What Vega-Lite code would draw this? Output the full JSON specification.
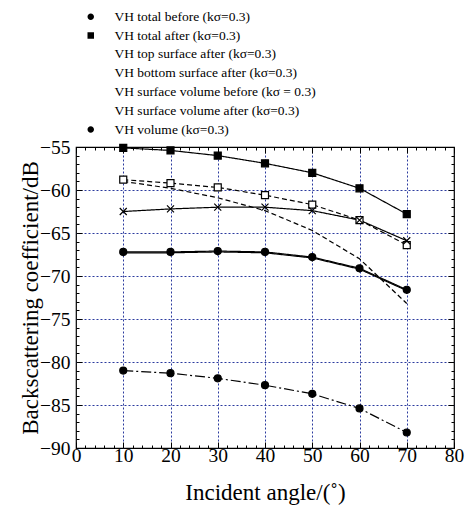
{
  "$schema": "https://vega.github.io/schema/vega-lite/v6.json",
  "width": 378,
  "height": 301,
  "autosize": {"type": "none"},
  "padding": {"left": 76, "top": 147, "right": 11, "bottom": 57},
  "background": "white",
  "config": {
    "view": {"stroke": "black", "strokeWidth": 1.2},
    "font": "Liberation Serif",
    "axis": {
      "labelFont": "Liberation Serif",
      "titleFont": "Liberation Serif",
      "labelColor": "black",
      "titleColor": "black",
      "labelFontSize": 19.5,
      "titleFontSize": 23,
      "titleFontWeight": "normal",
      "domain": false,
      "tickColor": "black",
      "tickWidth": 1,
      "gridColor": "#2b3a9e",
      "gridDash": [2, 2],
      "gridWidth": 1,
      "labelOverlap": false,
      "labelFlush": false
    },
    "legend": {
      "orient": "none",
      "legendX": 8,
      "legendY": -137,
      "title": null,
      "padding": 0,
      "labelFont": "Liberation Serif",
      "labelFontSize": 13.5,
      "labelColor": "black",
      "labelLimit": 400,
      "labelOffset": 17,
      "symbolSize": 100,
      "symbolOpacity": 1,
      "symbolStrokeColor": "black",
      "symbolStrokeWidth": 1.2,
      "rowPadding": 3.8
    }
  },
  "data": {
    "values": [
      {"series": "VH total before (kσ=0.3)", "angle": 10, "value": -67.2},
      {"series": "VH total before (kσ=0.3)", "angle": 20, "value": -67.2},
      {"series": "VH total before (kσ=0.3)", "angle": 30, "value": -67.1},
      {"series": "VH total before (kσ=0.3)", "angle": 40, "value": -67.2},
      {"series": "VH total before (kσ=0.3)", "angle": 50, "value": -67.8},
      {"series": "VH total before (kσ=0.3)", "angle": 60, "value": -69.1},
      {"series": "VH total before (kσ=0.3)", "angle": 70, "value": -71.6},
      {"series": "VH total after (kσ=0.3)", "angle": 10, "value": -55.1},
      {"series": "VH total after (kσ=0.3)", "angle": 20, "value": -55.4},
      {"series": "VH total after (kσ=0.3)", "angle": 30, "value": -56.0},
      {"series": "VH total after (kσ=0.3)", "angle": 40, "value": -56.9},
      {"series": "VH total after (kσ=0.3)", "angle": 50, "value": -58.0},
      {"series": "VH total after (kσ=0.3)", "angle": 60, "value": -59.8},
      {"series": "VH total after (kσ=0.3)", "angle": 70, "value": -62.8},
      {"series": "VH top surface after (kσ=0.3)", "angle": 10, "value": -59.0},
      {"series": "VH top surface after (kσ=0.3)", "angle": 20, "value": -59.8},
      {"series": "VH top surface after (kσ=0.3)", "angle": 30, "value": -60.9},
      {"series": "VH top surface after (kσ=0.3)", "angle": 40, "value": -62.4},
      {"series": "VH top surface after (kσ=0.3)", "angle": 50, "value": -64.7},
      {"series": "VH top surface after (kσ=0.3)", "angle": 60, "value": -68.0},
      {"series": "VH top surface after (kσ=0.3)", "angle": 70, "value": -73.2},
      {"series": "VH bottom surface after (kσ=0.3)", "angle": 10, "value": -58.8},
      {"series": "VH bottom surface after (kσ=0.3)", "angle": 20, "value": -59.2},
      {"series": "VH bottom surface after (kσ=0.3)", "angle": 30, "value": -59.7},
      {"series": "VH bottom surface after (kσ=0.3)", "angle": 40, "value": -60.6},
      {"series": "VH bottom surface after (kσ=0.3)", "angle": 50, "value": -61.7},
      {"series": "VH bottom surface after (kσ=0.3)", "angle": 60, "value": -63.5},
      {"series": "VH bottom surface after (kσ=0.3)", "angle": 70, "value": -66.4},
      {"series": "VH surface volume before (kσ = 0.3)", "angle": 10, "value": -67.3},
      {"series": "VH surface volume before (kσ = 0.3)", "angle": 20, "value": -67.3},
      {"series": "VH surface volume before (kσ = 0.3)", "angle": 30, "value": -67.2},
      {"series": "VH surface volume before (kσ = 0.3)", "angle": 40, "value": -67.3},
      {"series": "VH surface volume before (kσ = 0.3)", "angle": 50, "value": -67.9},
      {"series": "VH surface volume before (kσ = 0.3)", "angle": 60, "value": -69.2},
      {"series": "VH surface volume before (kσ = 0.3)", "angle": 70, "value": -71.7},
      {"series": "VH surface volume after (kσ=0.3)", "angle": 10, "value": -62.5},
      {"series": "VH surface volume after (kσ=0.3)", "angle": 20, "value": -62.2},
      {"series": "VH surface volume after (kσ=0.3)", "angle": 30, "value": -62.0},
      {"series": "VH surface volume after (kσ=0.3)", "angle": 40, "value": -62.0},
      {"series": "VH surface volume after (kσ=0.3)", "angle": 50, "value": -62.4},
      {"series": "VH surface volume after (kσ=0.3)", "angle": 60, "value": -63.5},
      {"series": "VH surface volume after (kσ=0.3)", "angle": 70, "value": -65.9},
      {"series": "VH volume (kσ=0.3)", "angle": 10, "value": -81.0},
      {"series": "VH volume (kσ=0.3)", "angle": 20, "value": -81.3},
      {"series": "VH volume (kσ=0.3)", "angle": 30, "value": -81.9},
      {"series": "VH volume (kσ=0.3)", "angle": 40, "value": -82.7},
      {"series": "VH volume (kσ=0.3)", "angle": 50, "value": -83.7},
      {"series": "VH volume (kσ=0.3)", "angle": 60, "value": -85.4},
      {"series": "VH volume (kσ=0.3)", "angle": 70, "value": -88.2}
    ]
  },
  "layer": [
    {
      "mark": {"type": "line", "color": "black", "strokeWidth": 1.2},
      "encoding": {
        "x": {
          "field": "angle", "type": "quantitative",
          "scale": {"domain": [0, 80], "nice": false},
          "axis": {
            "orient": "bottom",
            "title": "Incident angle/(˚)",
            "values": [0,2,4,6,8,10,12,14,16,18,20,22,24,26,28,30,32,34,36,38,40,42,44,46,48,50,52,54,56,58,60,62,64,66,68,70,72,74,76,78,80],
            "labelExpr": "datum.value % 10 === 0 ? datum.label : ''",
            "tickSize": {"condition": {"test": "datum.value % 10 === 0", "value": -6}, "value": -3},
            "labelPadding": 4,
            "titlePadding": 14,
            "grid": true,
            "gridOpacity": {"condition": {"test": "datum.value % 10 === 0 && datum.value > 0 && datum.value < 80", "value": 1}, "value": 0}
          }
        },
        "y": {
          "field": "value", "type": "quantitative",
          "scale": {"domain": [-90, -55], "nice": false, "zero": false},
          "axis": {
            "orient": "left",
            "title": "Backscattering coefficient/dB",
            "values": [-90,-89,-88,-87,-86,-85,-84,-83,-82,-81,-80,-79,-78,-77,-76,-75,-74,-73,-72,-71,-70,-69,-68,-67,-66,-65,-64,-63,-62,-61,-60,-59,-58,-57,-56,-55],
            "labelExpr": "datum.value % 5 === 0 ? datum.label : ''",
            "tickSize": {"condition": {"test": "datum.value % 5 === 0", "value": -6}, "value": -3},
            "labelPadding": 12,
            "titlePadding": -3,
            "grid": true,
            "gridOpacity": {"condition": {"test": "datum.value % 5 === 0 && datum.value > -90 && datum.value < -55", "value": 1}, "value": 0}
          }
        },
        "detail": {"field": "series"},
        "strokeDash": {
          "field": "series", "type": "nominal", "legend": null,
          "scale": {
            "domain": ["VH bottom surface after (kσ=0.3)", "VH surface volume after (kσ=0.3)", "VH surface volume before (kσ = 0.3)", "VH top surface after (kσ=0.3)", "VH total after (kσ=0.3)", "VH total before (kσ=0.3)", "VH volume (kσ=0.3)"],
            "range": [[5, 3], [1, 0], [1, 0], [5, 3], [1, 0], [1, 0], [10, 3, 2, 3]]
          }
        },
        "strokeWidth": {
          "field": "series", "type": "nominal", "legend": null,
          "scale": {
            "domain": ["VH bottom surface after (kσ=0.3)", "VH surface volume after (kσ=0.3)", "VH surface volume before (kσ = 0.3)", "VH top surface after (kσ=0.3)", "VH total after (kσ=0.3)", "VH total before (kσ=0.3)", "VH volume (kσ=0.3)"],
            "range": [1.1, 1.2, 1.3, 1.1, 1.3, 1.6, 1.2]
          }
        }
      }
    },
    {
      "transform": [{"filter": "datum.series !== 'VH top surface after (kσ=0.3)'"}],
      "mark": {"type": "point", "stroke": "black", "strokeWidth": 1.2, "size": 49, "opacity": 1},
      "encoding": {
        "x": {
          "field": "angle", "type": "quantitative",
          "axis": {
            "orient": "top", "title": null, "labels": false, "grid": false,
            "values": [0,2,4,6,8,10,12,14,16,18,20,22,24,26,28,30,32,34,36,38,40,42,44,46,48,50,52,54,56,58,60,62,64,66,68,70,72,74,76,78,80],
            "tickSize": {"condition": {"test": "datum.value % 10 === 0", "value": -6}, "value": -3}
          }
        },
        "y": {
          "field": "value", "type": "quantitative",
          "axis": {
            "orient": "right", "title": null, "labels": false, "grid": false,
            "values": [-90,-89,-88,-87,-86,-85,-84,-83,-82,-81,-80,-79,-78,-77,-76,-75,-74,-73,-72,-71,-70,-69,-68,-67,-66,-65,-64,-63,-62,-61,-60,-59,-58,-57,-56,-55],
            "tickSize": {"condition": {"test": "datum.value % 5 === 0", "value": -6}, "value": -3}
          }
        },
        "shape": {
          "field": "series", "type": "nominal", "legend": null,
          "scale": {
            "domain": ["VH bottom surface after (kσ=0.3)", "VH surface volume after (kσ=0.3)", "VH surface volume before (kσ = 0.3)", "VH top surface after (kσ=0.3)", "VH total after (kσ=0.3)", "VH total before (kσ=0.3)", "VH volume (kσ=0.3)"],
            "range": ["square", "M-1,-1L1,1M-1,1L1,-1", "M0,-1V1M-1,0H1", "circle", "square", "circle", "circle"]
          }
        },
        "fill": {
          "field": "series", "type": "nominal", "legend": null,
          "scale": {
            "domain": ["VH bottom surface after (kσ=0.3)", "VH surface volume after (kσ=0.3)", "VH surface volume before (kσ = 0.3)", "VH top surface after (kσ=0.3)", "VH total after (kσ=0.3)", "VH total before (kσ=0.3)", "VH volume (kσ=0.3)"],
            "range": ["white", "transparent", "transparent", "white", "black", "black", "black"]
          }
        }
      }
    },
    {
      "mark": {"type": "point", "stroke": "black", "strokeWidth": 1.2, "filled": false, "opacity": 0},
      "encoding": {
        "x": {"field": "angle", "type": "quantitative", "axis": null},
        "y": {"field": "value", "type": "quantitative", "axis": null},
        "shape": {
          "field": "series", "type": "nominal",
          "scale": {
            "domain": ["VH total before (kσ=0.3)", "VH total after (kσ=0.3)", "VH top surface after (kσ=0.3)", "VH bottom surface after (kσ=0.3)", "VH surface volume before (kσ = 0.3)", "VH surface volume after (kσ=0.3)", "VH volume (kσ=0.3)"],
            "range": [
              "M-3.8,0H3.8M-0.65,0A0.65,0.65 0 1,0 0.65,0A0.65,0.65 0 1,0 -0.65,0Z",
              "M-3.8,0H3.8M-0.65,-0.65H0.65V0.65H-0.65Z",
              "M-3.6,0H-2.9M-2.4,0H-1.6M-0.6,0H0.6M1.6,0H2.4M2.9,0H3.6M-0.6,0A0.6,0.6 0 1,0 0.6,0A0.6,0.6 0 1,0 -0.6,0Z",
              "M-3.6,0H-2.9M-2.4,0H-1.6M-0.6,0H0.6M1.6,0H2.4M2.9,0H3.6M-0.6,-0.6H0.6V0.6H-0.6Z",
              "M-3.8,0H3.8M0,-0.7V0.7",
              "M-3.8,0H3.8M-0.6,-0.6L0.6,0.6M-0.6,0.6L0.6,-0.6",
              "M-3.0,0H-2.7M-2.1,0H-0.6M0.6,0H2.1M-0.65,0A0.65,0.65 0 1,0 0.65,0A0.65,0.65 0 1,0 -0.65,0Z"
            ]
          }
        },
        "fill": {
          "field": "series", "type": "nominal",
          "scale": {
            "domain": ["VH total before (kσ=0.3)", "VH total after (kσ=0.3)", "VH top surface after (kσ=0.3)", "VH bottom surface after (kσ=0.3)", "VH surface volume before (kσ = 0.3)", "VH surface volume after (kσ=0.3)", "VH volume (kσ=0.3)"],
            "range": ["black", "black", "transparent", "transparent", "transparent", "transparent", "black"]
          }
        }
      }
    }
  ],
  "resolve": {
    "axis": {"x": "independent", "y": "independent"},
    "scale": {"shape": "independent", "fill": "independent"}
  }
}
